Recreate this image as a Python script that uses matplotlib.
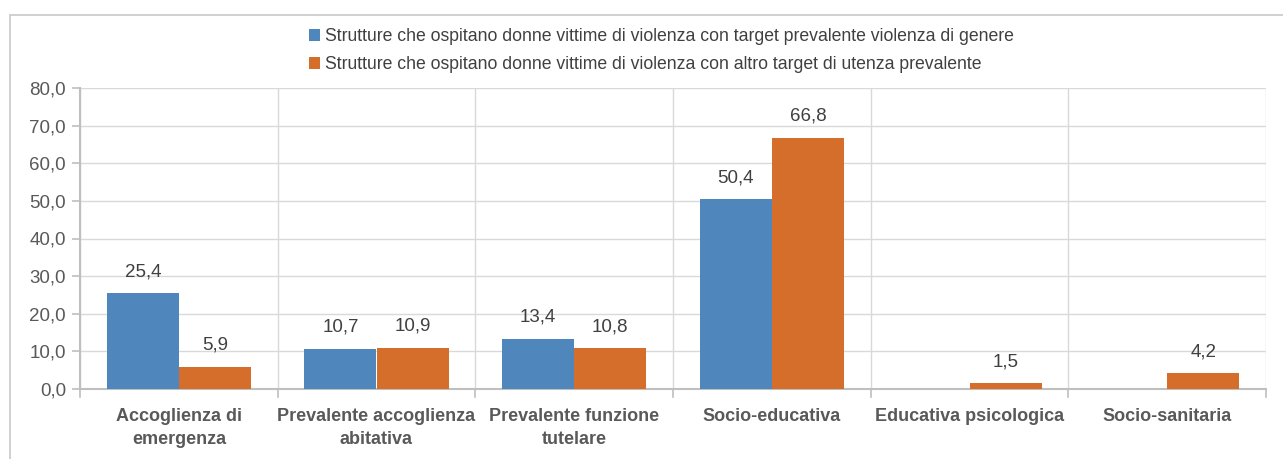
import matplotlib
matplotlib.use("Agg")
import matplotlib.pyplot as plt
import numpy as np
from matplotlib.patches import Rectangle

categories = ["Accoglienza di\nemergenza", "Prevalente accoglienza\nabitativa",
              "Prevalente funzione\ntutelare", "Socio-educativa",
              "Educativa psicologica", "Socio-sanitaria"]
series_names = ["Strutture che ospitano donne vittime di violenza con target prevalente violenza di genere",
                "Strutture che ospitano donne vittime di violenza con altro target di utenza prevalente"]
values_gender = [25.4, 10.7, 13.4, 50.4, None, None]
values_other = [5.9, 10.9, 10.8, 66.8, 1.5, 4.2]
yticks = [0, 10, 20, 30, 40, 50, 60, 70, 80]

blue = "#4f87bd"
orange = "#d56e2b"
txt = "#595959"
grid = "#d9d9d9"

plt.rcParams['font.family'] = ['Liberation Sans', 'DejaVu Sans']

W, H = 1283, 459
fig = plt.figure(figsize=(W/100, H/100), dpi=100)
fig.patches.append(Rectangle((10/W, -0.1), 1.2, 1 - 15/H + 0.1, transform=fig.transFigure,
                             fill=False, edgecolor="#c8c8c8", linewidth=1.2))
ax = fig.add_axes([80/W, 1 - 389/H, (1266-80)/W, (389-88)/H])

n = len(categories)
x = np.arange(n)
bw = 0.365
g = [np.nan if v is None else v for v in values_gender]
b1 = ax.bar(x - bw/2, g, bw, color=blue, label=series_names[0], zorder=3)
b2 = ax.bar(x + bw/2, values_other, bw, color=orange, label=series_names[1], zorder=3)

for xi, v in zip(x, values_gender):
    if v is not None:
        ax.annotate(f"{v:.1f}".replace(".", ","), (xi - bw/2, v), xytext=(0, 9.5),
                    textcoords="offset points", ha="center", va="bottom", fontsize=13.5, color="#404040")
for xi, v in zip(x, values_other):
    ax.annotate(f"{v:.1f}".replace(".", ","), (xi + bw/2, v), xytext=(0, 9.5),
                textcoords="offset points", ha="center", va="bottom", fontsize=13.5, color="#404040")

ax.set_xlim(-0.5, n - 0.5)
ax.set_ylim(0, 80)
ax.set_yticks(yticks)
ax.set_yticklabels([f"{t:.1f}".replace(".", ",") for t in yticks], fontsize=13.5, color=txt)
ax.set_xticks(x)
ax.set_xticklabels(categories, fontsize=13, color=txt, fontweight="bold", linespacing=1.4)
ax.tick_params(axis="x", length=0, pad=14)
ax.tick_params(axis="y", length=6, color="#bfbfbf", width=1.2, pad=4)

ax.yaxis.grid(True, color=grid, linewidth=1, zorder=0)
for b in np.arange(-0.5, n + 0.5, 1):
    ax.axvline(b, color=grid, linewidth=1, zorder=0)
    ax.plot([b, b], [0, -0.027], transform=ax.get_xaxis_transform(), color="#bfbfbf",
            linewidth=1.2, clip_on=False)

for s in ["top", "right"]:
    ax.spines[s].set_visible(False)
for s in ["left", "bottom"]:
    ax.spines[s].set_color("#bfbfbf")
    ax.spines[s].set_linewidth(1.5)

fig.legend(handles=[b1, b2], labels=series_names, loc="upper left",
           bbox_to_anchor=(302/W, 1 - 21/H), frameon=False, fontsize=12.7,
           handlelength=0.6, handleheight=0.7, handletextpad=0.3, labelspacing=0.62,
           labelcolor="#404040", borderaxespad=0)

fig.savefig("out.png", dpi=100)
